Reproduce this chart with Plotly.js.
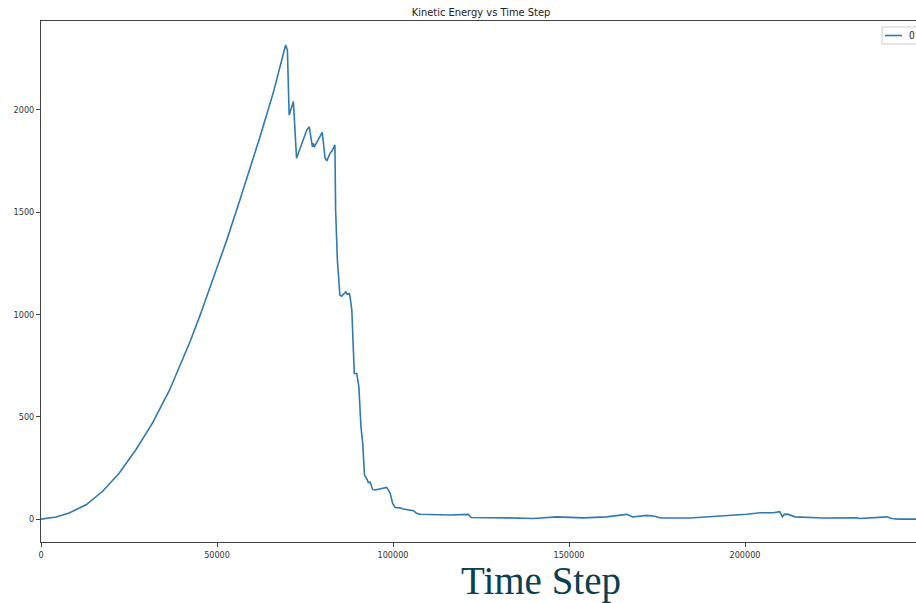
<!DOCTYPE html>
<html>
<head>
<meta charset="utf-8">
<script src="https://cdn.plot.ly/plotly-3.0.1.min.js"></script>
<style>
html,body{margin:0;padding:0;overflow:hidden;background:#fff;width:916px;height:603px;}
#wrap{position:relative;width:916px;height:603px;overflow:hidden;}
#chart{position:absolute;left:0;top:0;width:930px;height:603px;}
</style>
</head>
<body>
<div id="wrap"><div id="chart"></div></div>
<script>
const timeSteps = [0,4300,8000,12800,17500,22200,27000,31700,36500,39500,42300,45200,48000,52800,56500,58200,62200,66000,68400,69500,70000,70500,71700,72600,75500,76200,77100,77400,77600,79100,79900,80700,81200,82100,82700,83500,83700,84200,84500,84900,85400,86600,87000,87600,87800,88300,89000,89700,90300,90900,91400,91900,92500,93000,93500,94200,94900,98200,98700,99200,99900,100600,102000,102900,105800,106700,107700,112400,116200,121400,122200,132300,139900,146500,154100,160700,166400,168100,172100,174000,176100,184400,193800,200500,204300,208000,209900,210600,211200,212300,214200,222200,231700,232700,240300,241700,243600,250000];
const kineticEnergy = [0,10,30,70,136,224,340,470,630,748,866,997,1130,1365,1560,1650,1868,2085,2245,2318,2293,1976,2041,1764,1902,1918,1820,1837,1818,1862,1891,1764,1751,1788,1800,1829,1511,1267,1185,1095,1090,1111,1099,1103,1087,1022,712,712,647,451,370,215,199,178,181,145,142,155,142,126,77,57,55,49,41,28,24,21,20,23,8,6,3,11,6,11,23,10,18,15,5,5,15,24,31,31,36,11,24,23,11,5,6,3,11,3,0,0];
const seriesName = "0";
const chartTitle = "Kinetic Energy vs Time Step";
const xTitle = "Time Step";
const xTicks = [0,50000,100000,150000,200000];
const yTicks = [0,500,1000,1500,2000];

const lineColor = "#3079b3";
const tickFont = {family: "Liberation Sans Narrow, DejaVu Sans Condensed, sans-serif", size: 9, color: "#333"};

// plot area: x 41..921 px, y 21..542 px
const px = v => (v - 41) / 880;
const py = v => (542 - v) / 521;

Plotly.newPlot("chart", [{
  x: timeSteps, y: kineticEnergy, type: "scatter", mode: "lines",
  name: seriesName, line: {color: lineColor, width: 1.6}
}], {
  width: 930, height: 603,
  margin: {l: 41, r: 9, t: 21, b: 61},
  paper_bgcolor: "#fff", plot_bgcolor: "#fff",
  title: {text: chartTitle, x: 0.5, xref: "paper", y: 1 - 12/603, yref: "container", yanchor: "middle",
          font: {family: "Liberation Sans Narrow, DejaVu Sans Condensed, sans-serif", size: 11, color: "#222"}},
  showlegend: false,
  xaxis: {range: [0, 250000], tickvals: xTicks, ticktext: xTicks.map(String), showgrid: false, zeroline: false,
          showline: true, linecolor: "#444", linewidth: 1, mirror: true, ticks: "outside", ticklen: 4,
          tickcolor: "#444", tickfont: tickFont},
  yaxis: {range: [-112, 2435], tickvals: yTicks, ticktext: yTicks.map(String), showgrid: false, zeroline: false,
          showline: true, linecolor: "#444", linewidth: 1, mirror: true, ticks: "outside", ticklen: 4,
          tickcolor: "#444", tickfont: tickFont},
  shapes: [
    {type: "rect", xref: "paper", yref: "paper", x0: px(882), x1: px(919), y0: py(44), y1: py(27),
     line: {color: "#ccc", width: 1}, fillcolor: "rgba(255,255,255,0.9)"},
    {type: "line", xref: "paper", yref: "paper", x0: px(885), x1: px(902), y0: py(35.5), y1: py(35.5),
     line: {color: lineColor, width: 1.6}}
  ],
  annotations: [
    {text: seriesName, xref: "paper", yref: "paper", x: px(907), y: py(35.5), xanchor: "left", yanchor: "middle",
     showarrow: false, font: {family: "Liberation Sans Narrow, DejaVu Sans Condensed, sans-serif", size: 10, color: "#222"}},
    {text: xTitle, xref: "paper", yref: "paper", x: px(541), y: py(581),
     xanchor: "center", yanchor: "middle", showarrow: false, borderpad: 0,
     font: {family: "Liberation Serif, serif", size: 39, color: "#0b4050"}}
  ]
}, {displayModeBar: false, staticPlot: true});
</script>
</body>
</html>
